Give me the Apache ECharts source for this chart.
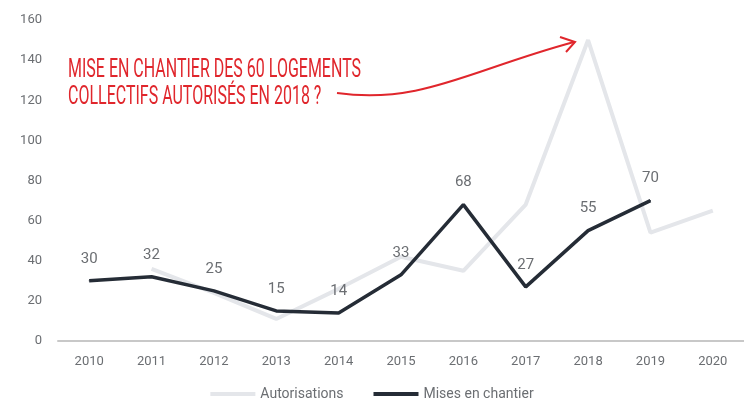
<!DOCTYPE html>
<html>
<head>
<meta charset="utf-8">
<script src="https://cdn.jsdelivr.net/npm/echarts@6/dist/echarts.min.js"></script>
<style>
    html, body { margin: 0; padding: 0; background: #fff; }
    #chart { width: 744px; height: 406px; }
</style>
</head>
<body>
<div id="chart"></div>
<script>
    var years = ['2010', '2011', '2012', '2013', '2014', '2015', '2016', '2017', '2018', '2019', '2020'];
    var autorisations = [null, 36, 24, 11, 26, 42, 35, 68, 150, 54, 65];
    var misesEnChantier = [30, 32, 25, 15, 14, 33, 68, 27, 55, 70, null];
    var note = 'MISE EN CHANTIER DES 60 LOGEMENTS\nCOLLECTIFS AUTORISÉS EN 2018 ?';

    var labelFont = 'Roboto, "Noto Sans", sans-serif';

    var myChart = echarts.init(document.getElementById('chart'));
    myChart.setOption({
        animation: false,
        grid: {left: 58, right: -21, top: 20, bottom: 65},
        legend: {
            bottom: 0,
            left: 'center',
            icon: 'rect',
            itemWidth: 45,
            itemHeight: 4,
            itemGap: 30,
            textStyle: {color: '#6b6e72', fontSize: 14, fontFamily: labelFont},
            data: ['Autorisations', 'Mises en chantier']
        },
        xAxis: {
            type: 'category',
            data: years,
            axisLine: {lineStyle: {color: '#c8c8c8', width: 2}},
            axisTick: {show: false},
            axisLabel: {color: '#6b6e72', fontSize: 13, margin: 14, fontFamily: labelFont}
        },
        yAxis: {
            type: 'value',
            min: 0, max: 160, interval: 20,
            splitLine: {show: false},
            axisLine: {show: false},
            axisTick: {show: false},
            axisLabel: {color: '#6b6e72', fontSize: 13, margin: 16, fontFamily: labelFont}
        },
        series: [
            {
                name: 'Autorisations',
                type: 'line',
                data: autorisations,
                symbol: 'none',
                color: '#e4e6ea',
                lineStyle: {color: '#e4e6ea', width: 4}
            },
            {
                name: 'Mises en chantier',
                type: 'line',
                data: misesEnChantier,
                symbol: 'circle',
                symbolSize: 1,
                showSymbol: true,
                color: '#252c36',
                lineStyle: {color: '#252c36', width: 3.5},
                label: {
                    show: true,
                    position: 'top',
                    distance: 14,
                    color: '#6b6e72',
                    fontSize: 15,
                    fontFamily: labelFont
                }
            }
        ],
        graphic: [
            {
                type: 'text',
                x: 68,
                y: 57,
                scaleX: 0.64,
                style: {
                    text: note,
                    fill: '#e0262c',
                    font: '25px Roboto, sans-serif',
                    lineHeight: 27
                }
            },
            {
                type: 'bezierCurve',
                shape: {x1: 337, y1: 93, cpx1: 420, cpy1: 105, cpx2: 470, cpy2: 70, x2: 574, y2: 42},
                style: {stroke: '#e0262c', lineWidth: 2, fill: null}
            },
            {
                type: 'polyline',
                shape: {points: [[560, 37], [575, 42], [566, 52]]},
                style: {stroke: '#e0262c', lineWidth: 2, fill: null}
            }
        ]
    });
</script>
</body>
</html>
